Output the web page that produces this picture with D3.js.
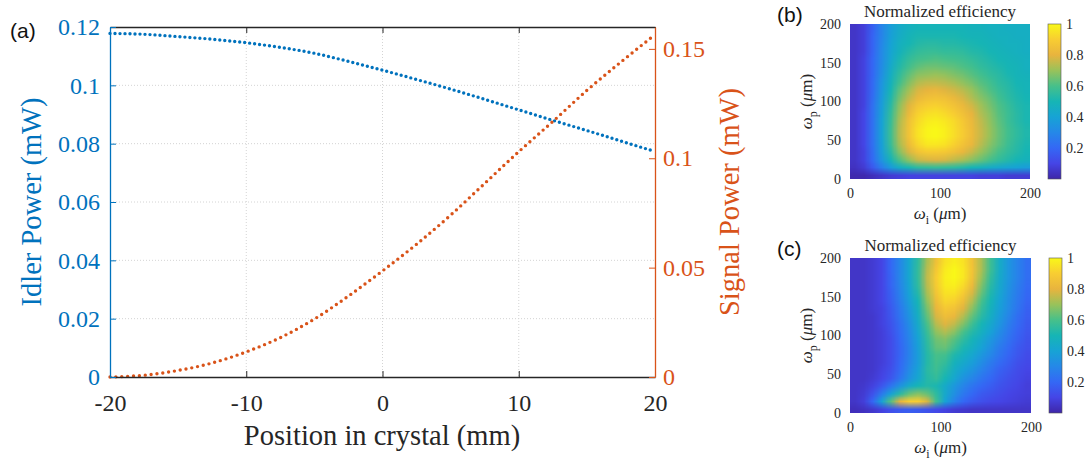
<!DOCTYPE html>
<html>
<head>
<meta charset="utf-8">
<script src="https://cdn.jsdelivr.net/npm/d3@7"></script>
<style>
  body { margin: 0; background: #fff; }
  svg { display: block; }
</style>
</head>
<body>
<svg id="fig" width="1087" height="466"></svg>
<script>
// ---- panel (a): power along the crystal ----
const positions = [-20, -17.5, -15, -12.5, -10, -7.5, -5, -2.5, 0, 2.5, 5, 7.5, 10, 12.5, 15, 17.5, 20]
const idlerPower = [0.1178, 0.1175, 0.1167, 0.1158, 0.1146, 0.1130, 0.1110, 0.1082, 0.1052, 0.1020, 0.0987, 0.0952, 0.0916, 0.0880, 0.0845, 0.0809, 0.0773]
const signalPower = [0, 0.0008, 0.0030, 0.0064, 0.0115, 0.0180, 0.0265, 0.0370, 0.0485, 0.0607, 0.0740, 0.0885, 0.1030, 0.1168, 0.1310, 0.1440, 0.1565]
const positionTicks = [-20, -10, 0, 10, 20]
const idlerTicks = [0, 0.02, 0.04, 0.06, 0.08, 0.1, 0.12]
const signalTicks = [0, 0.05, 0.1, 0.15]

// ---- panels (b), (c): normalized efficiency maps ----
const idlerWaists = [5, 15, 25, 35, 45, 55, 65, 75, 85, 95, 105, 115, 125, 135, 145, 155, 165, 175, 185, 195]
const pumpWaists = [195, 185, 175, 165, 155, 145, 135, 125, 115, 105, 95, 85, 75, 65, 55, 45, 35, 25, 15, 5]
const waistTicksX = [0, 100, 200]
const waistTicksY = [0, 50, 100, 150, 200]
const colorbarTicks = [0.2, 0.4, 0.6, 0.8, 1]

const effB = [
  [0.05,0.08,0.18,0.29,0.38,0.44,0.47,0.49,0.49,0.49,0.49,0.49,0.49,0.48,0.48,0.47,0.47,0.46,0.46,0.46],
  [0.05,0.08,0.19,0.29,0.39,0.45,0.49,0.51,0.51,0.51,0.51,0.51,0.50,0.49,0.49,0.48,0.47,0.47,0.46,0.46],
  [0.05,0.08,0.19,0.30,0.40,0.47,0.50,0.53,0.54,0.54,0.53,0.53,0.52,0.51,0.50,0.49,0.48,0.47,0.47,0.46],
  [0.05,0.08,0.19,0.31,0.41,0.48,0.53,0.56,0.57,0.57,0.56,0.56,0.55,0.53,0.52,0.50,0.49,0.48,0.47,0.46],
  [0.05,0.09,0.20,0.31,0.42,0.51,0.56,0.59,0.60,0.61,0.60,0.59,0.58,0.56,0.54,0.52,0.50,0.49,0.48,0.47],
  [0.05,0.09,0.20,0.32,0.44,0.53,0.59,0.63,0.65,0.65,0.64,0.63,0.61,0.59,0.56,0.54,0.52,0.50,0.49,0.47],
  [0.05,0.09,0.20,0.33,0.46,0.56,0.63,0.68,0.69,0.70,0.69,0.67,0.65,0.62,0.59,0.56,0.54,0.51,0.49,0.48],
  [0.05,0.09,0.21,0.35,0.48,0.59,0.67,0.73,0.75,0.75,0.74,0.72,0.69,0.66,0.62,0.59,0.55,0.53,0.50,0.49],
  [0.05,0.09,0.21,0.36,0.50,0.63,0.71,0.78,0.80,0.81,0.79,0.77,0.74,0.70,0.65,0.61,0.57,0.54,0.51,0.49],
  [0.05,0.09,0.22,0.37,0.52,0.66,0.75,0.82,0.85,0.86,0.85,0.82,0.78,0.73,0.68,0.64,0.59,0.55,0.52,0.50],
  [0.05,0.09,0.23,0.38,0.54,0.69,0.79,0.87,0.90,0.91,0.89,0.86,0.82,0.77,0.71,0.66,0.61,0.57,0.53,0.51],
  [0.05,0.10,0.23,0.39,0.56,0.71,0.82,0.91,0.94,0.95,0.93,0.90,0.85,0.80,0.73,0.68,0.62,0.58,0.54,0.51],
  [0.05,0.10,0.23,0.40,0.57,0.73,0.85,0.93,0.97,0.98,0.96,0.93,0.88,0.82,0.75,0.69,0.63,0.58,0.54,0.51],
  [0.05,0.10,0.23,0.40,0.58,0.74,0.86,0.95,0.99,1.00,0.98,0.94,0.89,0.83,0.76,0.70,0.64,0.59,0.55,0.52],
  [0.05,0.10,0.23,0.40,0.58,0.74,0.86,0.95,0.99,1.00,0.98,0.94,0.89,0.83,0.76,0.70,0.64,0.59,0.55,0.52],
  [0.05,0.10,0.23,0.39,0.57,0.72,0.83,0.92,0.96,0.96,0.95,0.91,0.86,0.81,0.74,0.68,0.63,0.58,0.54,0.51],
  [0.05,0.09,0.22,0.38,0.54,0.68,0.78,0.86,0.89,0.89,0.88,0.85,0.81,0.76,0.70,0.65,0.60,0.56,0.53,0.50],
  [0.05,0.09,0.21,0.35,0.49,0.61,0.69,0.76,0.78,0.79,0.78,0.75,0.72,0.68,0.64,0.60,0.56,0.53,0.50,0.48],
  [0.04,0.07,0.16,0.27,0.37,0.46,0.51,0.55,0.56,0.57,0.56,0.55,0.53,0.50,0.48,0.45,0.43,0.41,0.40,0.38],
  [0.01,0.01,0.03,0.05,0.07,0.08,0.09,0.09,0.09,0.09,0.09,0.09,0.09,0.09,0.08,0.08,0.08,0.07,0.07,0.07]
]

const effC = [
  [0.05,0.05,0.07,0.10,0.20,0.30,0.42,0.55,0.72,0.85,0.95,0.98,0.95,0.85,0.72,0.58,0.45,0.35,0.28,0.22],
  [0.05,0.05,0.07,0.10,0.20,0.30,0.42,0.56,0.74,0.88,0.97,1.00,0.96,0.86,0.72,0.58,0.45,0.35,0.28,0.22],
  [0.05,0.05,0.07,0.10,0.19,0.30,0.42,0.56,0.75,0.90,0.98,1.00,0.96,0.85,0.70,0.56,0.44,0.35,0.28,0.22],
  [0.05,0.05,0.07,0.10,0.19,0.29,0.41,0.55,0.74,0.89,0.97,0.98,0.93,0.82,0.67,0.54,0.43,0.34,0.27,0.21],
  [0.05,0.05,0.07,0.10,0.18,0.28,0.40,0.53,0.72,0.87,0.95,0.95,0.89,0.78,0.64,0.52,0.42,0.33,0.26,0.20],
  [0.05,0.05,0.07,0.10,0.17,0.27,0.38,0.50,0.69,0.84,0.92,0.91,0.84,0.73,0.60,0.50,0.40,0.32,0.25,0.19],
  [0.05,0.05,0.07,0.09,0.16,0.25,0.36,0.48,0.66,0.81,0.88,0.86,0.79,0.68,0.57,0.48,0.39,0.31,0.24,0.18],
  [0.05,0.05,0.06,0.09,0.15,0.24,0.34,0.46,0.63,0.78,0.84,0.81,0.73,0.63,0.54,0.46,0.37,0.29,0.22,0.17],
  [0.05,0.05,0.06,0.09,0.14,0.22,0.32,0.44,0.60,0.74,0.79,0.75,0.67,0.58,0.50,0.43,0.35,0.27,0.21,0.16],
  [0.05,0.05,0.06,0.08,0.13,0.21,0.30,0.42,0.57,0.69,0.73,0.68,0.60,0.53,0.47,0.40,0.32,0.25,0.19,0.15],
  [0.05,0.05,0.06,0.08,0.12,0.20,0.29,0.40,0.55,0.65,0.67,0.62,0.55,0.49,0.43,0.36,0.29,0.23,0.18,0.14],
  [0.05,0.05,0.06,0.08,0.12,0.19,0.28,0.39,0.54,0.63,0.64,0.58,0.51,0.46,0.40,0.33,0.26,0.21,0.16,0.13],
  [0.05,0.05,0.06,0.08,0.12,0.19,0.28,0.38,0.53,0.60,0.59,0.52,0.47,0.42,0.36,0.30,0.24,0.19,0.15,0.12],
  [0.05,0.05,0.06,0.08,0.12,0.20,0.29,0.38,0.53,0.59,0.56,0.48,0.43,0.38,0.32,0.26,0.21,0.17,0.13,0.11],
  [0.05,0.05,0.06,0.09,0.13,0.21,0.31,0.40,0.54,0.58,0.53,0.45,0.39,0.34,0.28,0.23,0.18,0.15,0.12,0.10],
  [0.05,0.05,0.07,0.10,0.15,0.24,0.34,0.42,0.53,0.56,0.50,0.42,0.34,0.29,0.24,0.20,0.16,0.13,0.11,0.09],
  [0.05,0.06,0.09,0.15,0.24,0.34,0.44,0.50,0.53,0.51,0.44,0.36,0.29,0.24,0.20,0.17,0.14,0.12,0.10,0.08],
  [0.05,0.07,0.14,0.26,0.40,0.54,0.64,0.68,0.64,0.55,0.43,0.33,0.25,0.20,0.16,0.14,0.12,0.10,0.09,0.08],
  [0.05,0.08,0.20,0.40,0.62,0.80,0.90,0.90,0.78,0.58,0.40,0.28,0.20,0.16,0.13,0.11,0.10,0.09,0.08,0.07],
  [0.03,0.04,0.06,0.09,0.13,0.16,0.17,0.16,0.14,0.11,0.09,0.07,0.06,0.05,0.05,0.05,0.05,0.05,0.05,0.05]
]

// parula-like colormap
const parulaStops = [0, 0.1, 0.2, 0.3, 0.4, 0.5, 0.6, 0.7, 0.8, 0.9, 1]
const parulaColors = ['#3e26a8', '#4545e6', '#3468f5', '#2588e8', '#17a3d5', '#16b5b5', '#47c08a', '#99c25a', '#e8b43e', '#f8cd32', '#f9f818']
const parula = d3.scaleLinear().domain(parulaStops).range(parulaColors).clamp(true)

const SERIF = '"Liberation Serif", "Times New Roman", Times, serif'
const SANS = '"Liberation Sans", Arial, Helvetica, sans-serif'
const blue = '#0072BD'
const orange = '#D95319'
const dark = '#262626'
const fmt = (d) => d3.format('~g')(d).replace('−', '-')

const svg = d3.select('#fig')

// ================= panel (a) =================
const x = d3.scaleLinear().domain([-20, 20]).range([110, 655])
const yIdler = d3.scaleLinear().domain([0, 0.12]).range([377, 27])
const ySignal = d3.scaleLinear().domain([0, 0.16]).range([377, 27])

const gA = svg.append('g')

// grid
gA.append('g')
  .selectAll('line')
  .data(positionTicks.slice(1, -1))
  .enter()
  .append('line')
  .attr('x1', (d) => x(d)).attr('x2', (d) => x(d))
  .attr('y1', 27).attr('y2', 377)
  .attr('stroke', '#d4d4d4').attr('stroke-dasharray', '1,2')
gA.append('g')
  .selectAll('line')
  .data(idlerTicks.slice(1, -1))
  .enter()
  .append('line')
  .attr('x1', 110).attr('x2', 655)
  .attr('y1', (d) => yIdler(d)).attr('y2', (d) => yIdler(d))
  .attr('stroke', '#d4d4d4').attr('stroke-dasharray', '1,2')

// dotted series
function dottedSeries(values, yScale, color) {
  const line = d3.line()
    .x((d, i) => x(positions[i]))
    .y((d) => yScale(d))
    .curve(d3.curveMonotoneX)
  const path = gA.append('path')
    .datum(values)
    .attr('d', line)
    .attr('fill', 'none')
    .attr('stroke', color)
    .attr('stroke-width', 3.4)
    .attr('stroke-linecap', 'round')
  const len = path.node().getTotalLength()
  path.attr('stroke-dasharray', '0,' + len / 112)
}
dottedSeries(idlerPower, yIdler, blue)
dottedSeries(signalPower, ySignal, orange)

// axes
const styleAxis = (g, color, size) => {
  g.selectAll('text')
    .style('font-family', SERIF)
    .style('font-size', size + 'px')
    .attr('fill', color)
  g.selectAll('line').attr('stroke', color)
  g.select('.domain').attr('stroke', color).attr('stroke-width', 1.3)
}

const bottomAxis = gA.append('g')
  .attr('transform', 'translate(0,377)')
  .call(d3.axisBottom(x).tickValues(positionTicks).tickSize(-6).tickSizeOuter(0).tickPadding(17).tickFormat(fmt))
styleAxis(bottomAxis, dark, 24)

const topAxis = gA.append('g')
  .attr('transform', 'translate(0,27)')
  .call(d3.axisTop(x).tickValues(positionTicks).tickSize(-6).tickSizeOuter(0).tickFormat(''))
styleAxis(topAxis, dark, 24)

const leftAxis = gA.append('g')
  .attr('transform', 'translate(110,0)')
  .call(d3.axisLeft(yIdler).tickValues(idlerTicks).tickSize(-6).tickSizeOuter(0).tickPadding(10).tickFormat(fmt))
styleAxis(leftAxis, blue, 24)

const rightAxis = gA.append('g')
  .attr('transform', 'translate(655,0)')
  .call(d3.axisRight(ySignal).tickValues(signalTicks).tickSize(-6).tickSizeOuter(0).tickPadding(8).tickFormat(fmt))
styleAxis(rightAxis, orange, 24)

gA.append('text')
  .attr('x', 382).attr('y', 445)
  .attr('text-anchor', 'middle')
  .style('font-family', SERIF).style('font-size', '28.5px')
  .attr('fill', dark)
  .text('Position in crystal (mm)')

gA.append('text')
  .attr('transform', 'translate(41,202) rotate(-90)')
  .attr('text-anchor', 'middle')
  .style('font-family', SERIF).style('font-size', '28.5px')
  .attr('fill', blue)
  .text('Idler Power (mW)')

gA.append('text')
  .attr('transform', 'translate(739,202) rotate(-90)')
  .attr('text-anchor', 'middle')
  .style('font-family', SERIF).style('font-size', '28.5px')
  .attr('fill', orange)
  .text('Signal Power (mW)')

svg.append('text')
  .attr('x', 10).attr('y', 38)
  .style('font-family', SANS).style('font-size', '21px')
  .attr('fill', '#111')
  .text('(a)')

// ================= panels (b), (c) =================
function efficiencyMap(values, box, label) {
  const xs = d3.scaleLinear().domain([0, 200]).range([box.x0, box.x1])
  const ys = d3.scaleLinear().domain([0, 200]).range([box.y1, box.y0])
  const g = svg.append('g')

  // raster of the grid, smoothed by the browser when scaled up
  const canvas = document.createElement('canvas')
  canvas.width = idlerWaists.length
  canvas.height = pumpWaists.length
  const ctx = canvas.getContext('2d')
  const img = ctx.createImageData(canvas.width, canvas.height)
  values.forEach((row, j) => {
    row.forEach((v, i) => {
      const c = d3.rgb(parula(v))
      const k = (j * canvas.width + i) * 4
      img.data[k] = c.r
      img.data[k + 1] = c.g
      img.data[k + 2] = c.b
      img.data[k + 3] = 255
    })
  })
  ctx.putImageData(img, 0, 0)

  g.append('image')
    .attr('href', canvas.toDataURL())
    .attr('x', xs(0)).attr('y', ys(200))
    .attr('width', xs(200) - xs(0))
    .attr('height', ys(0) - ys(200))
    .attr('preserveAspectRatio', 'none')

  const ax = g.append('g')
    .attr('transform', 'translate(0,' + box.y1 + ')')
    .call(d3.axisBottom(xs).tickValues(waistTicksX).tickSize(0).tickPadding(9))
  const ay = g.append('g')
    .attr('transform', 'translate(' + box.x0 + ',0)')
    .call(d3.axisLeft(ys).tickValues(waistTicksY).tickSize(0).tickPadding(9))
  ;[ax, ay].forEach((a) => {
    a.select('.domain').remove()
    a.selectAll('text')
      .style('font-family', SERIF).style('font-size', '14px')
      .attr('fill', dark)
  })

  // title
  g.append('text')
    .attr('x', (box.x0 + box.x1) / 2).attr('y', box.y0 - 7)
    .attr('text-anchor', 'middle')
    .style('font-family', SERIF).style('font-size', '17px')
    .attr('fill', dark)
    .text('Normalized efficiency')

  // x label
  const xl = g.append('text')
    .attr('x', (box.x0 + box.x1) / 2).attr('y', box.y1 + 40)
    .attr('text-anchor', 'middle')
    .style('font-family', SERIF).style('font-size', '17px')
    .attr('fill', dark)
  xl.append('tspan').style('font-style', 'italic').text('ω')
  xl.append('tspan').style('font-size', '12px').attr('dy', 5).text('i')
  xl.append('tspan').attr('dy', -5).text(' (')
  xl.append('tspan').style('font-style', 'italic').text('μ')
  xl.append('tspan').text('m)')

  // y label
  const yl = g.append('text')
    .attr('transform', 'translate(' + (box.x0 - 38) + ',' + (box.y0 + box.y1) / 2 + ') rotate(-90)')
    .attr('text-anchor', 'middle')
    .style('font-family', SERIF).style('font-size', '17px')
    .attr('fill', dark)
  yl.append('tspan').style('font-style', 'italic').text('ω')
  yl.append('tspan').style('font-size', '12px').attr('dy', 5).text('p')
  yl.append('tspan').attr('dy', -5).text(' (')
  yl.append('tspan').style('font-style', 'italic').text('μ')
  yl.append('tspan').text('m)')

  // colorbar
  const cb = d3.scaleLinear().domain([0, 1]).range([box.y1, box.y0])
  const gradId = 'grad-' + label
  const grad = svg.append('defs').append('linearGradient')
    .attr('id', gradId)
    .attr('x1', 0).attr('y1', 1).attr('x2', 0).attr('y2', 0)
  parulaStops.forEach((s, i) => {
    grad.append('stop').attr('offset', s).attr('stop-color', parulaColors[i])
  })
  g.append('rect')
    .attr('x', box.cx).attr('y', box.y0)
    .attr('width', 13).attr('height', box.y1 - box.y0)
    .attr('fill', 'url(#' + gradId + ')')
    .attr('stroke', '#555').attr('stroke-width', 0.6)
  const ac = g.append('g')
    .attr('transform', 'translate(' + (box.cx + 13) + ',0)')
    .call(d3.axisRight(cb).tickValues(colorbarTicks).tickSize(0).tickPadding(5).tickFormat(fmt))
  ac.select('.domain').remove()
  ac.selectAll('text')
    .style('font-family', SERIF).style('font-size', '14px')
    .attr('fill', dark)

  svg.append('text')
    .attr('x', box.x0 - 73).attr('y', box.y0 - 2)
    .style('font-family', SANS).style('font-size', '21px')
    .attr('fill', '#111')
    .text('(' + label + ')')
}

efficiencyMap(effB, { x0: 850, x1: 1030, y0: 24, y1: 179, cx: 1048 }, 'b')
efficiencyMap(effC, { x0: 850, x1: 1031, y0: 258, y1: 413, cx: 1049 }, 'c')
</script>
</body>
</html>
